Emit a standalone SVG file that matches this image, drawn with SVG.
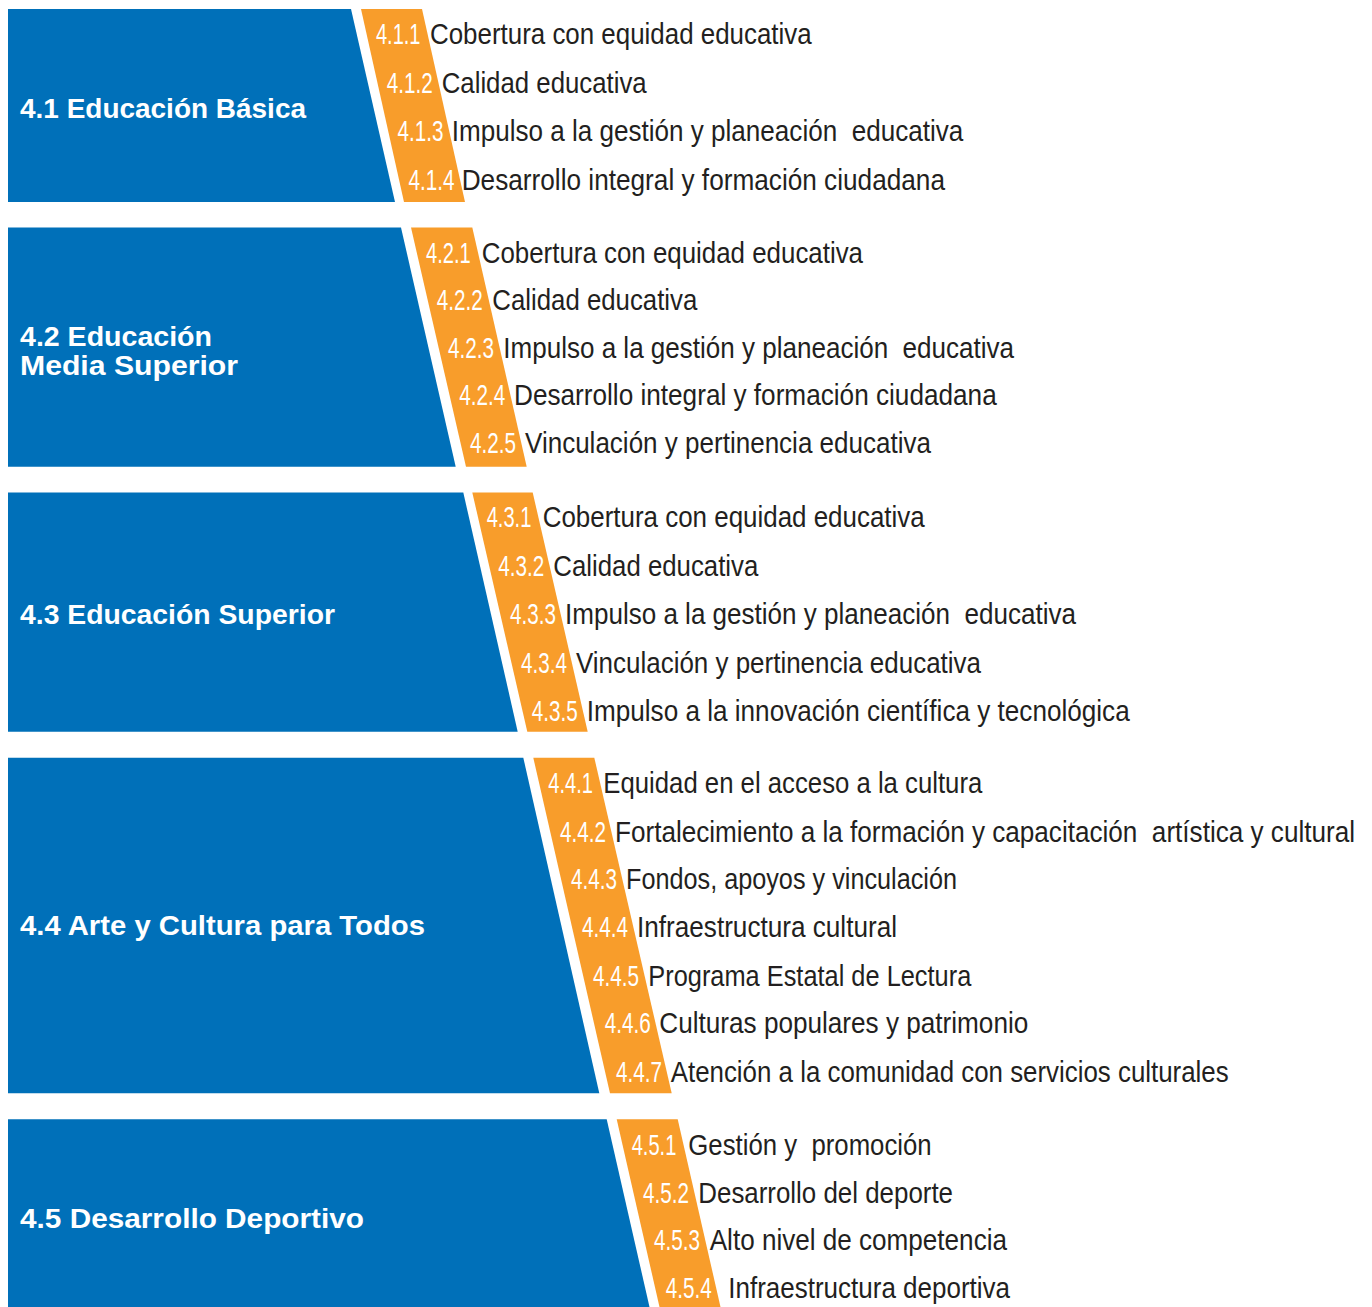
<svg xmlns="http://www.w3.org/2000/svg" width="1372" height="1307" viewBox="0 0 1372 1307">
<style>
.blue{fill:#0070B9}
.orange{fill:#F89D2B}
.hd{font-family:"Liberation Sans",Arial,sans-serif;font-weight:bold;font-size:28px;fill:#fff}
.num{font-family:"Liberation Sans",Arial,sans-serif;font-size:20px;fill:#fff;white-space:pre}
.item{font-family:"Liberation Sans",Arial,sans-serif;font-size:24px;fill:#231F20;white-space:pre}
</style>
<rect width="1372" height="1307" fill="#fff"/>
<g id="node-4-1">
<polygon class="blue" points="8,9 351,9 395,202 8,202"/>
<polygon class="orange" points="361,9 422,9 465,202 404,202"/>
<text class="hd" x="20" y="117.5" textLength="286" lengthAdjust="spacingAndGlyphs">4.1 Educación Básica</text>
<text class="num" x="376" y="44.5" transform="matrix(1,0,0,1.45,0,-20.025)" textLength="44.5" lengthAdjust="spacingAndGlyphs">4.1.1</text>
<text class="item" x="430" y="44.5" transform="matrix(1,0,0,1.20833,0,-9.271)" textLength="381.7" lengthAdjust="spacingAndGlyphs">Cobertura con equidad educativa</text>
<text class="num" x="386.7" y="92.8" transform="matrix(1,0,0,1.45,0,-41.76)" textLength="46" lengthAdjust="spacingAndGlyphs">4.1.2</text>
<text class="item" x="441.7" y="92.8" transform="matrix(1,0,0,1.20833,0,-19.333)" textLength="205" lengthAdjust="spacingAndGlyphs">Calidad educativa</text>
<text class="num" x="397.5" y="141.5" transform="matrix(1,0,0,1.45,0,-63.675)" textLength="46" lengthAdjust="spacingAndGlyphs">4.1.3</text>
<text class="item" x="451.7" y="141.5" transform="matrix(1,0,0,1.20833,0,-29.479)" textLength="511.6" lengthAdjust="spacingAndGlyphs">Impulso a la gestión y planeación  educativa</text>
<text class="num" x="408.5" y="190" transform="matrix(1,0,0,1.45,0,-85.5)" textLength="46" lengthAdjust="spacingAndGlyphs">4.1.4</text>
<text class="item" x="461.7" y="190" transform="matrix(1,0,0,1.20833,0,-39.583)" textLength="483.3" lengthAdjust="spacingAndGlyphs">Desarrollo integral y formación ciudadana</text>
</g>
<g id="node-4-2">
<polygon class="blue" points="8,227.5 401,227.5 455.7,466.7 8,466.7"/>
<polygon class="orange" points="411,227.5 472.3,227.5 526.7,466.7 466,466.7"/>
<text class="hd" x="20" y="345.7" textLength="192" lengthAdjust="spacingAndGlyphs">4.2 Educación</text>
<text class="hd" x="20" y="374.5" textLength="218" lengthAdjust="spacingAndGlyphs">Media Superior</text>
<text class="num" x="426" y="262.7" transform="matrix(1,0,0,1.45,0,-118.215)" textLength="44.7" lengthAdjust="spacingAndGlyphs">4.2.1</text>
<text class="item" x="481.7" y="262.7" transform="matrix(1,0,0,1.20833,0,-54.729)" textLength="381.3" lengthAdjust="spacingAndGlyphs">Cobertura con equidad educativa</text>
<text class="num" x="436.7" y="310.3" transform="matrix(1,0,0,1.45,0,-139.635)" textLength="46" lengthAdjust="spacingAndGlyphs">4.2.2</text>
<text class="item" x="492.3" y="310.3" transform="matrix(1,0,0,1.20833,0,-64.646)" textLength="205" lengthAdjust="spacingAndGlyphs">Calidad educativa</text>
<text class="num" x="448" y="358" transform="matrix(1,0,0,1.45,0,-161.1)" textLength="46" lengthAdjust="spacingAndGlyphs">4.2.3</text>
<text class="item" x="503.3" y="358" transform="matrix(1,0,0,1.20833,0,-74.583)" textLength="510.7" lengthAdjust="spacingAndGlyphs">Impulso a la gestión y planeación  educativa</text>
<text class="num" x="459.3" y="405.5" transform="matrix(1,0,0,1.45,0,-182.475)" textLength="46" lengthAdjust="spacingAndGlyphs">4.2.4</text>
<text class="item" x="514" y="405.5" transform="matrix(1,0,0,1.20833,0,-84.479)" textLength="482.7" lengthAdjust="spacingAndGlyphs">Desarrollo integral y formación ciudadana</text>
<text class="num" x="470" y="453.3" transform="matrix(1,0,0,1.45,0,-203.985)" textLength="46" lengthAdjust="spacingAndGlyphs">4.2.5</text>
<text class="item" x="525" y="453.3" transform="matrix(1,0,0,1.20833,0,-94.437)" textLength="406" lengthAdjust="spacingAndGlyphs">Vinculación y pertinencia educativa</text>
</g>
<g id="node-4-3">
<polygon class="blue" points="8,492.5 463.3,492.5 517.7,731.7 8,731.7"/>
<polygon class="orange" points="472.3,492.5 532.7,492.5 587.7,731.7 527.3,731.7"/>
<text class="hd" x="20" y="623.5" textLength="315" lengthAdjust="spacingAndGlyphs">4.3 Educación Superior</text>
<text class="num" x="486.7" y="527" transform="matrix(1,0,0,1.45,0,-237.15)" textLength="44.7" lengthAdjust="spacingAndGlyphs">4.3.1</text>
<text class="item" x="542.7" y="527" transform="matrix(1,0,0,1.20833,0,-109.792)" textLength="382" lengthAdjust="spacingAndGlyphs">Cobertura con equidad educativa</text>
<text class="num" x="498.3" y="576" transform="matrix(1,0,0,1.45,0,-259.2)" textLength="46" lengthAdjust="spacingAndGlyphs">4.3.2</text>
<text class="item" x="553.3" y="576" transform="matrix(1,0,0,1.20833,0,-120)" textLength="205" lengthAdjust="spacingAndGlyphs">Calidad educativa</text>
<text class="num" x="510" y="624.3" transform="matrix(1,0,0,1.45,0,-280.935)" textLength="46" lengthAdjust="spacingAndGlyphs">4.3.3</text>
<text class="item" x="565" y="624.3" transform="matrix(1,0,0,1.20833,0,-130.062)" textLength="511" lengthAdjust="spacingAndGlyphs">Impulso a la gestión y planeación  educativa</text>
<text class="num" x="521" y="672.7" transform="matrix(1,0,0,1.45,0,-302.715)" textLength="46" lengthAdjust="spacingAndGlyphs">4.3.4</text>
<text class="item" x="576" y="672.7" transform="matrix(1,0,0,1.20833,0,-140.146)" textLength="405" lengthAdjust="spacingAndGlyphs">Vinculación y pertinencia educativa</text>
<text class="num" x="531.7" y="720.7" transform="matrix(1,0,0,1.45,0,-324.315)" textLength="46" lengthAdjust="spacingAndGlyphs">4.3.5</text>
<text class="item" x="586.7" y="720.7" transform="matrix(1,0,0,1.20833,0,-150.146)" textLength="543" lengthAdjust="spacingAndGlyphs">Impulso a la innovación científica y tecnológica</text>
</g>
<g id="node-4-4">
<polygon class="blue" points="8,757.7 523.3,757.7 599.3,1093.3 8,1093.3"/>
<polygon class="orange" points="533.3,757.7 594.3,757.7 671.7,1093.3 610,1093.3"/>
<text class="hd" x="20" y="934.5" textLength="405" lengthAdjust="spacingAndGlyphs">4.4 Arte y Cultura para Todos</text>
<text class="num" x="548.3" y="793.5" transform="matrix(1,0,0,1.45,0,-357.075)" textLength="44.7" lengthAdjust="spacingAndGlyphs">4.4.1</text>
<text class="item" x="603.3" y="793.5" transform="matrix(1,0,0,1.20833,0,-165.312)" textLength="379" lengthAdjust="spacingAndGlyphs">Equidad en el acceso a la cultura</text>
<text class="num" x="560" y="841.7" transform="matrix(1,0,0,1.45,0,-378.765)" textLength="46" lengthAdjust="spacingAndGlyphs">4.4.2</text>
<text class="item" x="615" y="841.7" transform="matrix(1,0,0,1.20833,0,-175.354)" textLength="740" lengthAdjust="spacingAndGlyphs">Fortalecimiento a la formación y capacitación  artística y cultural</text>
<text class="num" x="571" y="889.5" transform="matrix(1,0,0,1.45,0,-400.275)" textLength="46" lengthAdjust="spacingAndGlyphs">4.4.3</text>
<text class="item" x="626" y="889.5" transform="matrix(1,0,0,1.20833,0,-185.312)" textLength="331" lengthAdjust="spacingAndGlyphs">Fondos, apoyos y vinculación</text>
<text class="num" x="582" y="937.5" transform="matrix(1,0,0,1.45,0,-421.875)" textLength="46" lengthAdjust="spacingAndGlyphs">4.4.4</text>
<text class="item" x="637" y="937.5" transform="matrix(1,0,0,1.20833,0,-195.312)" textLength="260" lengthAdjust="spacingAndGlyphs">Infraestructura cultural</text>
<text class="num" x="593" y="985.7" transform="matrix(1,0,0,1.45,0,-443.565)" textLength="46" lengthAdjust="spacingAndGlyphs">4.4.5</text>
<text class="item" x="648.3" y="985.7" transform="matrix(1,0,0,1.20833,0,-205.354)" textLength="323" lengthAdjust="spacingAndGlyphs">Programa Estatal de Lectura</text>
<text class="num" x="604.7" y="1033.5" transform="matrix(1,0,0,1.45,0,-465.075)" textLength="46" lengthAdjust="spacingAndGlyphs">4.4.6</text>
<text class="item" x="659.3" y="1033.5" transform="matrix(1,0,0,1.20833,0,-215.312)" textLength="369" lengthAdjust="spacingAndGlyphs">Culturas populares y patrimonio</text>
<text class="num" x="616" y="1081.7" transform="matrix(1,0,0,1.45,0,-486.765)" textLength="46" lengthAdjust="spacingAndGlyphs">4.4.7</text>
<text class="item" x="670.7" y="1081.7" transform="matrix(1,0,0,1.20833,0,-225.354)" textLength="558" lengthAdjust="spacingAndGlyphs">Atención a la comunidad con servicios culturales</text>
</g>
<g id="node-4-5">
<polygon class="blue" points="8,1119.3 606.7,1119.3 649.5,1307 8,1307"/>
<polygon class="orange" points="616.7,1119.3 677.7,1119.3 720.5,1307 659.5,1307"/>
<text class="hd" x="20" y="1227.5" textLength="344" lengthAdjust="spacingAndGlyphs">4.5 Desarrollo Deportivo</text>
<text class="num" x="631.7" y="1155.3" transform="matrix(1,0,0,1.45,0,-519.885)" textLength="44.7" lengthAdjust="spacingAndGlyphs">4.5.1</text>
<text class="item" x="688.3" y="1155.3" transform="matrix(1,0,0,1.20833,0,-240.687)" textLength="243.4" lengthAdjust="spacingAndGlyphs">Gestión y  promoción</text>
<text class="num" x="643" y="1202.7" transform="matrix(1,0,0,1.45,0,-541.215)" textLength="46" lengthAdjust="spacingAndGlyphs">4.5.2</text>
<text class="item" x="698.3" y="1202.7" transform="matrix(1,0,0,1.20833,0,-250.562)" textLength="254.7" lengthAdjust="spacingAndGlyphs">Desarrollo del deporte</text>
<text class="num" x="654" y="1250.3" transform="matrix(1,0,0,1.45,0,-562.635)" textLength="46" lengthAdjust="spacingAndGlyphs">4.5.3</text>
<text class="item" x="709.7" y="1250.3" transform="matrix(1,0,0,1.20833,0,-260.479)" textLength="297.3" lengthAdjust="spacingAndGlyphs">Alto nivel de competencia</text>
<text class="num" x="665.7" y="1298.3" transform="matrix(1,0,0,1.45,0,-584.235)" textLength="46" lengthAdjust="spacingAndGlyphs">4.5.4</text>
<text class="item" x="728.3" y="1298.3" transform="matrix(1,0,0,1.20833,0,-270.479)" textLength="281.7" lengthAdjust="spacingAndGlyphs">Infraestructura deportiva</text>
</g>
<g id="connectors"/>
</svg>
